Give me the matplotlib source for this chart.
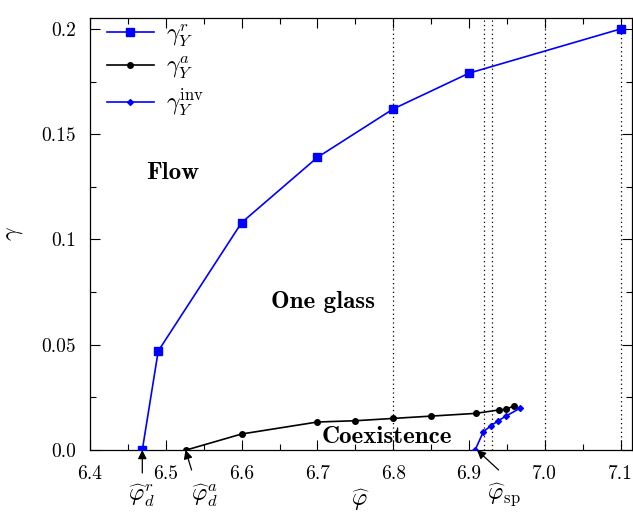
import matplotlib
matplotlib.use("Agg")
import matplotlib.pyplot as plt
from matplotlib.ticker import FixedLocator, MultipleLocator

plt.rcParams['mathtext.fontset'] = 'cm'
plt.rcParams['font.family'] = 'serif'
plt.rcParams['font.serif'] = ['cmr10', 'DejaVu Serif']
plt.rcParams['axes.formatter.use_mathtext'] = True

# data
phi_r = [6.469, 6.49, 6.6, 6.7, 6.8, 6.9, 7.1]
gam_r = [0.0, 0.047, 0.108, 0.139, 0.162, 0.179, 0.2]

phi_a = [6.527, 6.6, 6.7, 6.75, 6.8, 6.85, 6.909, 6.939, 6.949, 6.959]
gam_a = [0.0, 0.0076, 0.0133, 0.0139, 0.0150, 0.0161, 0.0174, 0.019, 0.0193, 0.021]

phi_inv = [6.908, 6.919, 6.9285, 6.9386, 6.9487, 6.967]
gam_inv = [0.0, 0.0087, 0.0114, 0.0139, 0.0161, 0.0198]

vlines = [6.8, 6.92, 6.93, 7.0, 7.1]
xticks = [6.4, 6.5, 6.6, 6.7, 6.8, 6.9, 7.0, 7.1]
yticks = [0.0, 0.05, 0.1, 0.15, 0.2]
ytick_labels = ['0.0', '0.05', '0.1', '0.15', '0.2']

fig = plt.figure(figsize=(6.33, 5.15), dpi=100)
ax = fig.add_axes([90/633, 65/515, 542/633, 432/515])

for v in vlines:
    ax.axvline(v, color='black', ls=(0, (1, 2.5)), lw=0.9, zorder=1)

blue = '#0000ff'
ax.plot(phi_r, gam_r, color=blue, lw=1.2, marker='s', ms=5.5, label=r'$\gamma_Y^r$', zorder=3)
ax.plot(phi_a, gam_a, color='black', lw=1.2, marker='o', ms=4, label=r'$\gamma_Y^a$', zorder=3)
ax.plot(phi_inv, gam_inv, color=blue, lw=1.2, marker='D', ms=3, label=r'$\gamma_Y^{\rm inv}$', zorder=3)

ax.set_xlim(6.4, 7.115)
ax.set_ylim(0.0, 0.2052)
ax.xaxis.set_major_locator(FixedLocator(xticks))
ax.xaxis.set_minor_locator(MultipleLocator(0.05))
ax.yaxis.set_major_locator(FixedLocator(yticks))
ax.yaxis.set_minor_locator(MultipleLocator(0.025))
ax.set_xticklabels(['%.1f' % t for t in xticks])
ax.set_yticklabels(ytick_labels)
ax.tick_params(which='both', direction='in', top=True, right=True, labelsize=14)
ax.tick_params(axis='y', pad=10)
ax.tick_params(axis='x', pad=11)
ax.tick_params(which='major', length=7, width=0.8)
ax.tick_params(which='minor', length=4, width=0.8)
for s in ax.spines.values():
    s.set_linewidth(0.9)

ax.set_xlabel(r'$\widehat{\varphi}$', fontsize=17, labelpad=3)
ax.set_ylabel(r'$\gamma$', fontsize=17, labelpad=12)

leg = ax.legend(loc='upper left', frameon=False, fontsize=17, handlelength=2.0,
                handletextpad=0.5, borderaxespad=0.0, borderpad=0.2,
                labelspacing=0.25, bbox_to_anchor=(0.022, 1.002))

ax.text(6.509, 0.1316, 'Flow', family='cmb10', fontsize=18, ha='center', va='center')
ax.text(6.707, 0.0703, 'One glass', family='cmb10', fontsize=18, ha='center', va='center')
ax.text(6.792, 0.006, 'Coexistence', family='cmb10', fontsize=18, ha='center', va='center')

ap = dict(arrowstyle='-|>', color='black', lw=0.9, mutation_scale=13, shrinkA=0, shrinkB=0)
ax.annotate('', xy=(6.469, 0.0), xytext=(6.469, -0.0109), arrowprops=ap, annotation_clip=False)
ax.annotate('', xy=(6.526, 0.0), xytext=(6.534, -0.0095), arrowprops=ap, annotation_clip=False)
ax.annotate('', xy=(6.9105, 0.0), xytext=(6.939, -0.0095), arrowprops=ap, annotation_clip=False)

ax.text(6.468, -0.0214, r'$\widehat{\varphi}_d^r$', fontsize=17, ha='center', va='center', clip_on=False)
ax.text(6.551, -0.0214, r'$\widehat{\varphi}_d^a$', fontsize=17, ha='center', va='center', clip_on=False)
ax.text(6.946, -0.0214, r'$\widehat{\varphi}_{\rm sp}$', fontsize=17, ha='center', va='center', clip_on=False)

fig.savefig('out.png', dpi=100)
